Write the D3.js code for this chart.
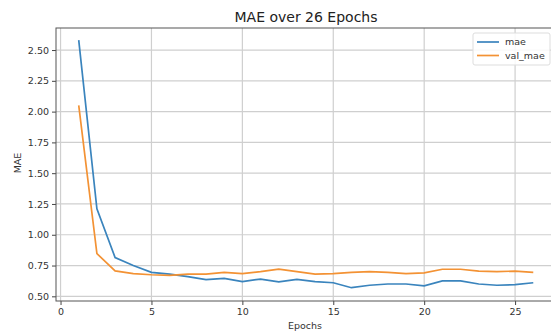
<!DOCTYPE html>
<html>
<head>
<meta charset="utf-8">
<script src="https://cdn.jsdelivr.net/npm/d3@7"></script>
<style>
  body { margin: 0; background: #fff; }
  svg { display: block; font-family: "DejaVu Sans", sans-serif; }
</style>
</head>
<body>
<div id="chart"></div>
<script>
// data
var epochs = d3.range(1, 27)
var mae = [2.58, 1.21, 0.815, 0.75, 0.695, 0.68, 0.66, 0.635, 0.645, 0.62,
           0.64, 0.617, 0.638, 0.62, 0.61, 0.57, 0.59, 0.60, 0.60, 0.585,
           0.625, 0.625, 0.60, 0.59, 0.595, 0.61]
var valMae = [2.05, 0.847, 0.706, 0.685, 0.675, 0.67, 0.68, 0.68, 0.695, 0.685,
              0.70, 0.72, 0.70, 0.68, 0.685, 0.695, 0.70, 0.695, 0.685, 0.69,
              0.72, 0.72, 0.705, 0.70, 0.705, 0.695]
var xTicks = [0, 5, 10, 15, 20, 25]
var yTicks = [0.5, 0.75, 1.0, 1.25, 1.5, 1.75, 2.0, 2.25, 2.5]
var series = [
    {name: 'mae', values: mae, color: '#3a84bd'},
    {name: 'val_mae', values: valMae, color: '#f39234'}
]

var width = 551, height = 333
var plotLeft = 56, plotTop = 28, plotRight = 556, plotBottom = 301

var svg = d3.select('#chart')
    .append('svg')
        .attr('width', width)
        .attr('height', height)

var x = d3.scaleLinear().domain([-0.25, 27.25]).range([plotLeft, plotRight])
var y = d3.scaleLinear().domain([0.462, 2.679]).range([plotBottom, plotTop])

// grid
svg.append('g')
    .selectAll('line')
    .data(xTicks)
    .enter()
    .append('line')
    .attr('x1', function(d) { return x(d) })
    .attr('x2', function(d) { return x(d) })
    .attr('y1', plotTop)
    .attr('y2', plotBottom)
    .style('stroke', '#cfcfcf')
    .style('stroke-width', 1.2)

svg.append('g')
    .selectAll('line')
    .data(yTicks)
    .enter()
    .append('line')
    .attr('x1', plotLeft)
    .attr('x2', plotRight)
    .attr('y1', function(d) { return y(d) })
    .attr('y2', function(d) { return y(d) })
    .style('stroke', '#cfcfcf')
    .style('stroke-width', 1.2)

// axes
var xAxis = svg.append('g')
    .attr('transform', 'translate(0,' + plotBottom + ')')
    .call(d3.axisBottom(x).tickValues(xTicks).tickSize(4).tickPadding(3).tickFormat(d3.format('d')))
var yAxis = svg.append('g')
    .attr('transform', 'translate(' + plotLeft + ',0)')
    .call(d3.axisLeft(y).tickValues(yTicks).tickSize(4).tickPadding(3).tickFormat(d3.format('.2f')))

;[xAxis, yAxis].forEach(function(a) {
    a.select('.domain').remove()
    a.selectAll('line').style('stroke', '#444')
    a.selectAll('text')
        .style('font-family', '"DejaVu Sans", sans-serif')
        .style('font-size', '9.5px')
        .style('fill', '#333')
})

// frame
svg.append('rect')
    .attr('x', plotLeft)
    .attr('y', plotTop)
    .attr('width', plotRight - plotLeft)
    .attr('height', plotBottom - plotTop)
    .style('fill', 'none')
    .style('stroke', '#555')
    .style('stroke-width', 1)

// lines
var line = d3.line()
    .x(function(d, i) { return x(epochs[i]) })
    .y(function(d) { return y(d) })

svg.append('g')
    .selectAll('path')
    .data(series)
    .enter()
    .append('path')
    .attr('d', function(d) { return line(d.values) })
    .style('fill', 'none')
    .style('stroke', function(d) { return d.color })
    .style('stroke-width', 1.7)

// title and labels
svg.append('text')
    .attr('x', (plotLeft + plotRight) / 2)
    .attr('y', 22)
    .attr('text-anchor', 'middle')
    .style('font-size', '14px')
    .style('fill', '#222')
    .text('MAE over 26 Epochs')

svg.append('text')
    .attr('x', 305)
    .attr('y', 329)
    .attr('text-anchor', 'middle')
    .style('font-size', '9.5px')
    .style('fill', '#333')
    .text('Epochs')

svg.append('text')
    .attr('transform', 'translate(21,163) rotate(-90)')
    .attr('text-anchor', 'middle')
    .style('font-size', '9.5px')
    .style('fill', '#333')
    .text('MAE')

// legend
var legend = svg.append('g').attr('transform', 'translate(473,33)')
legend.append('rect')
    .attr('width', 77)
    .attr('height', 32)
    .attr('rx', 2)
    .style('fill', 'rgba(255,255,255,0.85)')
    .style('stroke', '#ddd')

var item = legend.selectAll('g.item')
    .data(series)
    .enter()
    .append('g')
    .attr('class', 'item')
    .attr('transform', function(d, i) { return 'translate(0,' + (9 + i * 13.5) + ')' })

item.append('line')
    .attr('x1', 4)
    .attr('x2', 26)
    .style('stroke', function(d) { return d.color })
    .style('stroke-width', 1.7)

item.append('text')
    .attr('x', 32)
    .attr('dy', '0.35em')
    .style('font-size', '9.5px')
    .style('fill', '#333')
    .text(function(d) { return d.name })
</script>
</body>
</html>
